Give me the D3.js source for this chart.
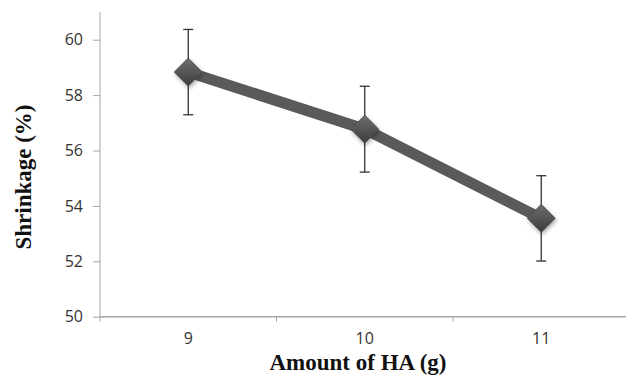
<html>
<head>
<script src="https://d3js.org/d3.v7.min.js"></script>
<style>
  body { margin: 0; background: #fff; }
  .tick text { font-family: "Open Sans", sans-serif; font-size: 16px; fill: #333; }
  .ttl { font-family: "Liberation Serif", "Times New Roman", serif; font-weight: bold; font-size: 23px; fill: #111; }
</style>
</head>
<body>
<svg class="chart" width="626" height="376"></svg>
<script>
// data
var amounts = ["9", "10", "11"];
var shrinkage = [58.83, 56.77, 53.55];
var errors = [1.54, 1.55, 1.54];
var yTicks = [50, 52, 54, 56, 58, 60];

var svg = d3.select(".chart");

var x = d3.scaleBand().domain(amounts).range([100, 629.5]);
var y = d3.scaleLinear().domain([50, 61]).range([316.7, 12]);

// gradient + shadow for diamond markers
var defs = svg.append("defs");
var grad = defs.append("linearGradient").attr("id", "dg")
  .attr("x1", "0").attr("y1", "0").attr("x2", "0").attr("y2", "1");
grad.append("stop").attr("offset", "0").attr("stop-color", "#6e6e6e");
grad.append("stop").attr("offset", "1").attr("stop-color", "#3c3c3c");
var f = defs.append("filter").attr("id", "sh").attr("x", "-50%").attr("y", "-50%").attr("width", "200%").attr("height", "200%");
f.append("feDropShadow").attr("dx", 1).attr("dy", 2).attr("stdDeviation", 2).attr("flood-color", "#000").attr("flood-opacity", 0.35);

// y axis
var yAxis = svg.append("g")
  .attr("transform", "translate(100,0)")
  .call(d3.axisLeft(y).tickValues(yTicks).tickSize(7).tickPadding(10).tickFormat(d3.format("d")));
yAxis.select(".domain").attr("stroke", "#a6a6a6").attr("d", "M0," + y(50) + "V" + y(61));
yAxis.selectAll(".tick line").attr("stroke", "#a6a6a6");

// x axis
var xAxis = svg.append("g")
  .attr("transform", "translate(0," + y(50) + ")")
  .call(d3.axisBottom(x).tickSize(0).tickPadding(16));
xAxis.select(".domain").attr("stroke", "#a6a6a6").attr("stroke-width", 1.5).attr("d", "M100,0H626");
var bandEdges = amounts.map(function(d) { return x(d); }).concat([x.range()[1]]);
xAxis.selectAll(".edge").data(bandEdges).enter().append("line")
  .attr("x1", function(d) { return d; }).attr("x2", function(d) { return d; })
  .attr("y1", 0).attr("y2", 5).attr("stroke", "#a6a6a6");

var cx = function(d, i) { return x(amounts[i]) + x.bandwidth() / 2; };

// line
svg.append("path")
  .datum(shrinkage)
  .attr("fill", "none")
  .attr("stroke", "#5a5a5a")
  .attr("stroke-width", 11)
  .attr("d", d3.line().x(cx).y(function(d) { return y(d); }));

// error bars
var eb = svg.append("g").selectAll("g").data(shrinkage).enter().append("g");
eb.append("line")
  .attr("x1", cx).attr("x2", cx)
  .attr("y1", function(d, i) { return y(d + errors[i]); })
  .attr("y2", function(d, i) { return y(d - errors[i]); })
  .attr("stroke", "#333").attr("stroke-width", 1.3);
[1, -1].forEach(function(s) {
  eb.append("line")
    .attr("x1", function(d, i) { return cx(d, i) - 5; })
    .attr("x2", function(d, i) { return cx(d, i) + 5; })
    .attr("y1", function(d, i) { return y(d + s * errors[i]); })
    .attr("y2", function(d, i) { return y(d + s * errors[i]); })
    .attr("stroke", "#333").attr("stroke-width", 1.3);
});

// diamond markers
svg.append("g").selectAll("path").data(shrinkage).enter().append("path")
  .attr("transform", function(d, i) { return "translate(" + cx(d, i) + "," + y(d) + ")"; })
  .attr("d", "M0,-14L14,0L0,14L-14,0Z")
  .attr("fill", "url(#dg)")
  .attr("stroke", "#4a4a4a")
  .attr("stroke-width", 0.8)
  .attr("filter", "url(#sh)");

// titles
svg.append("text").attr("class", "ttl")
  .attr("x", 358).attr("y", 370).attr("text-anchor", "middle")
  .text("Amount of HA (g)");
svg.append("text").attr("class", "ttl")
  .attr("transform", "translate(31,177) rotate(-90)").attr("text-anchor", "middle")
  .text("Shrinkage (%)");
</script>
</body>
</html>
